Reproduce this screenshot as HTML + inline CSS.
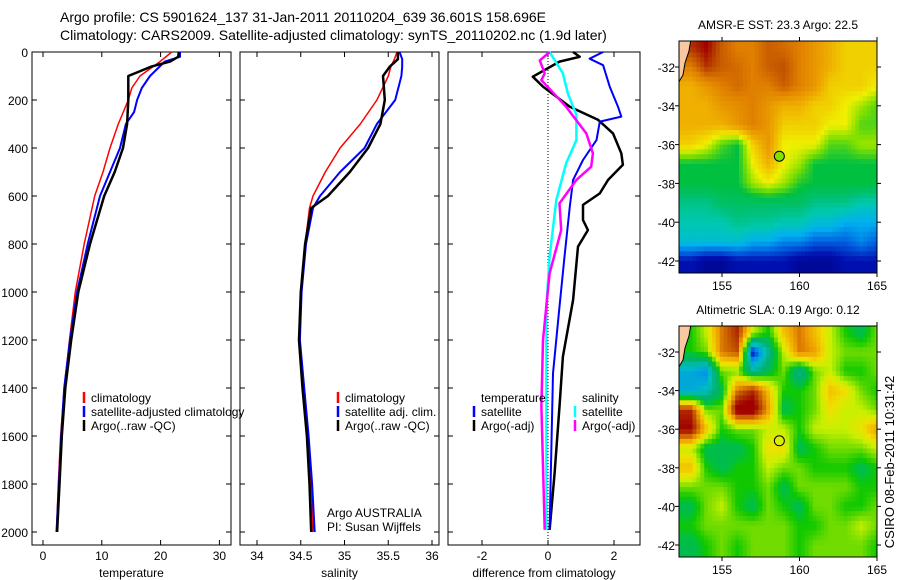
<!DOCTYPE html>
<html><head><meta charset="utf-8">
<style>
body{margin:0;background:#fff;}
svg{display:block;font-family:"Liberation Sans",sans-serif;}
text{fill:#000;}
</style></head>
<body>
<svg id="chart" width="900" height="580" viewBox="0 0 900 580" xmlns="http://www.w3.org/2000/svg">
<text x="60" y="22" font-size="14">Argo profile: CS 5901624_137 31-Jan-2011 20110204_639 36.601S 158.696E</text>
<text x="60" y="40" font-size="14">Climatology: CARS2009. Satellite-adjusted climatology: synTS_20110202.nc (1.9d later)</text>
<g id="p1"></g>
<g id="p2"></g>
<g id="p3"></g>
<g id="m1"></g>
<g id="m2"></g>
<text transform="translate(894,462) rotate(-90)" font-size="13" text-anchor="middle">CSIRO 08-Feb-2011 10:31:42</text>
</svg>
<script>
// ---------- profile data ----------
const tDepthArgo = [0,20,40,60,100,200,300,400,500,600,800,1000,1200,1400,1600,1800,2000];
const tempArgo   = [23.1,23.0,21.6,18.5,14.5,14.5,14.3,13.6,12.2,10.4,8.0,6.0,4.8,3.8,3.2,2.8,2.4];
const tDepthClim = [0,40,100,150,200,300,400,500,600,800,1000,1200,1400,1600,1800,2000];
const tempClim   = [21.9,19.9,16.5,15.1,14.5,12.8,11.4,10.2,8.8,7.0,5.5,4.5,3.6,3.0,2.6,2.3];
const tDepthSat  = [0,20,40,100,150,200,250,300,400,500,600,800,1000,1200,1400,1600,1800,2000];
const tempSat    = [23.3,23.3,20.7,18.2,16.8,16.0,15.5,14.1,13.1,11.4,9.7,7.6,5.8,4.6,3.6,3.1,2.7,2.3];

const sDepth   = [0,30,60,100,200,300,400,500,600,650,800,1000,1200,1400,1600,1800,2000];
const salArgo  = [35.61,35.61,35.52,35.44,35.46,35.41,35.27,35.06,34.81,34.62,34.55,34.50,34.48,34.52,34.57,34.60,34.62];
const salClim  = [35.60,35.57,35.53,35.50,35.37,35.18,34.95,34.78,34.64,34.60,34.55,34.50,34.49,34.54,34.59,34.62,34.64];
const salSat   = [35.63,35.66,35.66,35.65,35.58,35.37,35.23,34.95,34.72,34.64,34.56,34.51,34.49,34.54,34.59,34.63,34.66];

const dDepthTA = [0,20,40,103,144,228,283,339,422,470,533,589,637,700,742,811,1033,1269,1477,1755,1991];
const diffTempArgo = [0.76,0.96,0.35,-0.46,-0.15,0.66,1.52,1.97,2.22,2.27,1.82,1.57,1.06,1.06,1.21,0.91,0.76,0.45,0.35,0.2,0.05];
const dDepthTS = [0,28,55,144,228,269,290,367,450,533,644,853,1061,1339,1991];
const diffTempSat = [1.67,1.26,1.67,1.87,2.12,2.22,1.57,1.47,1.06,0.76,0.66,0.5,0.35,0.15,0.05];
const dDepthSS = [0,89,172,262,367,464,617,853,1061,1991];
const diffSalSat = [0.05,0.45,0.6,0.86,0.86,0.55,0.25,0.05,-0.05,-0.05];
const dDepthSA = [0,35,89,117,228,339,422,478,533,631,742,922,1200,1477,1991];
const diffSalArgo = [0.05,-0.25,-0.1,-0.2,0.55,1.16,1.36,1.31,0.86,0.35,0.4,0.05,-0.15,-0.2,-0.1];

const depthTicks = [0,200,400,600,800,1000,1200,1400,1600,1800,2000];
const tempTicks = [0,10,20,30];
const salTicks = [34,34.5,35,35.5,36];
const diffTicks = [-2,0,2];

// ---------- map data (rows lat -31..-42, cols lon 153..165) ----------
const mapLons = [153,154,155,156,157,158,159,160,161,162,163,164,165];
const mapLats = [-31,-32,-33,-34,-35,-36,-37,-38,-39,-40,-41,-42];
const sstGrid = [
[25.5,26,25,24.5,24.5,25,24.8,24.5,24,23.5,23,23,23],
[24.5,25.5,25,24.8,24.5,25,25.2,24.5,24,23.5,23,23,23],
[23.5,24,24.5,24.8,24.5,24.5,25,24.5,24,23,23,23,22.5],
[23.5,23.5,24,24.2,24.5,24,23.5,23.5,23,23,22.5,22,21.5],
[23.5,23.5,23.5,24,24.5,24,23,23,23,22.5,22.5,21.5,21.5],
[23,22.5,21.5,21,23,24,22.5,22.5,22.5,21.5,21.5,22,22],
[21,21,21,21,22.5,23.5,22.5,22,21,21,21,21,21],
[21,21,21,21,22,22.5,22,21.2,21,21,21,21,21],
[20,20,20.5,20.5,20.5,20.5,20.5,20.5,20,20,20,19.5,19.5],
[19.5,19.5,19.5,20,19.8,19.8,19.5,19.5,19,19,18.5,18.5,18.5],
[19,19,19,19,18.5,18.5,18,18,17.5,17.5,17.5,18,17.5],
[16.5,16,16,16.5,16.5,16.5,16.5,16,16,16,16.5,16.5,16.5]];
const slaGrid = [
[0,0.1,0.3,0.4,0.1,0,0.2,0.3,0.2,0.1,0,-0.05,0.05],
[0,0.05,0.3,0.35,-0.42,-0.15,0.1,0.3,0.25,0.1,0.05,0.05,0.05],
[-0.25,-0.3,0.05,0.05,-0.15,-0.05,0.05,-0.15,0.05,0.1,0,0,0.05],
[-0.25,-0.2,-0.05,0.3,0.4,0.2,0,0,0.05,0.2,0.15,0.05,0],
[0.4,0.05,0.05,0.5,0.5,0.25,-0.05,0,0.05,0.15,0.1,0.1,0.05],
[0.45,0.2,0,0.05,0.05,0.1,0.1,0,0.1,0.1,0.1,0.15,0.25],
[0.1,-0.05,-0.05,-0.05,0,0.15,0.15,-0.05,0,0.05,0.05,0.05,0.1],
[0.2,0,-0.05,0,0,0.1,0.05,0.05,0,0,0,-0.05,0],
[0.05,0.05,0.05,0,0,0.05,-0.05,0.05,0.05,0.05,0.05,0,0],
[-0.05,0.05,0.1,0,-0.05,0.05,0,-0.05,0.05,0.05,0,0,0.05],
[0,0.05,0.05,0.05,0.05,0.05,0.05,0,0,0.05,0.05,0.1,0.05],
[-0.05,0,0.05,0,0.05,0.05,0.05,0,0.05,0.05,0.05,0.05,0]];
const argoLon = 158.7, argoLat = -36.6;
const latTicks = [-32,-34,-36,-38,-40,-42];
const lonTicks = [155,160,165];

const NS = "http://www.w3.org/2000/svg";
function mk(parent, tag, attrs){const e=document.createElementNS(NS,tag);for(const k in attrs)e.setAttribute(k,attrs[k]);parent.appendChild(e);return e;}

// ---------- profile panels ----------
const PT=52, PB=545;
const yD = d => 52 + d*0.24;
function panel(g, L, R, xs, xticks, xlabel, showY){
  const box = mk(g,'rect',{x:L,y:PT,width:R-L,height:PB-PT,fill:'none',stroke:'#000','stroke-width':1});
  
  
  depthTicks.forEach(d=>{
    const y=yD(d);
    mk(g,'line',{x1:L,x2:L+5,y1:y,y2:y,stroke:'#000'});
    mk(g,'line',{x1:R-5,x2:R,y1:y,y2:y,stroke:'#000'});
    if(showY){const t=mk(g,'text',{x:L-4,y:y+5,'font-size':12,'text-anchor':'end'});t.textContent=d;
      
      }
  });
  xticks.forEach(v=>{
    const x=xs(v);
    mk(g,'line',{x1:x,x2:x,y1:PB-5,y2:PB,stroke:'#000'});
    mk(g,'line',{x1:x,x2:x,y1:PT,y2:PT+5,stroke:'#000'});
    const t=mk(g,'text',{x:x,y:PB+15,'font-size':12,'text-anchor':'middle'});t.textContent=v;
    
    
  });
  const xl=mk(g,'text',{x:(L+R)/2,y:577,'font-size':12,'text-anchor':'middle'});xl.textContent=xlabel;
  
  
}
function line(g, depths, vals, xs, color, w, name){
  const pts = vals.map((v,i)=>xs(v).toFixed(1)+','+yD(depths[i]).toFixed(1)).join(' ');
  const p = mk(g,'polyline',{points:pts,fill:'none',stroke:color,'stroke-width':w,'stroke-linejoin':'round'});
  
  
}
function legend(g, x, y, color, label){
  mk(g,'line',{x1:x,x2:x,y1:y-10,y2:y+1,stroke:color,'stroke-width':2.5});
  const t=mk(g,'text',{x:x+7,y:y,'font-size':12});t.textContent=label;
  
  
}
const g1=document.getElementById('p1'), g2=document.getElementById('p2'), g3=document.getElementById('p3');
const xT = v => 43 + v*5.88;
const xS = v => 257 + (v-34)*87.5;
const xDf = v => 548 + v*33;
panel(g1,32,231,xT,tempTicks,'temperature',true);
panel(g2,240,439,xS,salTicks,'salinity',false);
panel(g3,448,640,xDf,diffTicks,'difference from climatology',false);
mk(g3,'line',{x1:xDf(0),x2:xDf(0),y1:PT,y2:PB,stroke:'#000','stroke-dasharray':'1,2'});

line(g1,tDepthClim,tempClim,xT,'#f00',1.5,'temp-climatology-line');
line(g1,tDepthSat,tempSat,xT,'#00f',2,'temp-satellite-line');
line(g1,tDepthArgo,tempArgo,xT,'#000',2.5,'temp-argo-line');
line(g2,sDepth,salClim,xS,'#f00',1.5,'sal-climatology-line');
line(g2,sDepth,salSat,xS,'#00f',2,'sal-satellite-line');
line(g2,sDepth,salArgo,xS,'#000',2.5,'sal-argo-line');
line(g3,dDepthTA,diffTempArgo,xDf,'#000',2.5,'diff-temp-argo-line');
line(g3,dDepthTS,diffTempSat,xDf,'#00f',2,'diff-temp-sat-line');
line(g3,dDepthSS,diffSalSat,xDf,'#0ff',2.5,'diff-sal-sat-line');
line(g3,dDepthSA,diffSalArgo,xDf,'#f0f',2.5,'diff-sal-argo-line');

legend(g1,84,402,'#f00','climatology');
legend(g1,84,416,'#00f','satellite-adjusted climatology');
legend(g1,84,430,'#000','Argo(..raw -QC)');
legend(g2,338,402,'#f00','climatology');
legend(g2,338,416,'#00f','satellite adj. clim.');
legend(g2,338,430,'#000','Argo(..raw -QC)');
const tt=mk(g3,'text',{x:481,y:402,'font-size':12});tt.textContent='temperature';


const ts=mk(g3,'text',{x:582,y:402,'font-size':12});ts.textContent='salinity';


legend(g3,474,416,'#00f','satellite');
legend(g3,474,430,'#000','Argo(-adj)');
legend(g3,575,416,'#0ff','satellite');
legend(g3,575,430,'#f0f','Argo(-adj)');
const a1=mk(g2,'text',{x:327,y:517,'font-size':12});a1.textContent='Argo AUSTRALIA';


const a2=mk(g2,'text',{x:327,y:531,'font-size':12});a2.textContent='PI: Susan Wijffels';



// ---------- maps ----------
function hex(c){return [parseInt(c.slice(1,3),16),parseInt(c.slice(3,5),16),parseInt(c.slice(5,7),16)];}
function cmap(stops, v){
  if(v<=stops[0][0]) return stops[0][1];
  for(let i=1;i<stops.length;i++){
    if(v<=stops[i][0]){const a=stops[i-1],b=stops[i];const t=(v-a[0])/(b[0]-a[0]);
      const A=hex(a[1]),B=hex(b[1]);return 'rgb('+A.map((x,k)=>Math.round(x+(B[k]-x)*t)).join(',')+')';}
  }
  return stops[stops.length-1][1];
}
const sstStops=[[15.5,'#000080'],[16.5,'#0010b0'],[17.5,'#0060e0'],[18.5,'#00b0f0'],[19.5,'#00c8b0'],[20.3,'#00c070'],[21,'#00c040'],[21.8,'#80e000'],[22.5,'#f0f000'],[23.5,'#f0b000'],[24.5,'#e08000'],[25.2,'#c05000'],[26,'#a00000']];
const slaStops=[[-0.45,'#00006f'],[-0.38,'#0020c0'],[-0.3,'#0090f0'],[-0.2,'#00c0c0'],[-0.1,'#00b070'],[-0.03,'#00c040'],[0,'#10c800'],[0.05,'#70dc00'],[0.1,'#c8f000'],[0.15,'#f0e000'],[0.25,'#f0a000'],[0.35,'#c05000'],[0.45,'#a00000']];

function sample(grid, lon, lat){
  let fc=Math.max(0,Math.min(mapLons.length-1,lon-mapLons[0]));
  let fr=Math.max(0,Math.min(mapLats.length-1,mapLats[0]-lat));
  const c0=Math.min(Math.floor(fc),mapLons.length-2), r0=Math.min(Math.floor(fr),mapLats.length-2);
  const tc=fc-c0, tr=fr-r0;
  const a=grid[r0][c0]*(1-tc)+grid[r0][c0+1]*tc;
  const b=grid[r0+1][c0]*(1-tc)+grid[r0+1][c0+1]*tc;
  return a*(1-tr)+b*tr;
}

function drawMap(id, top, bottom, latScale, lat32y, grid, stops, title, markerFill, clipId){
  const g=document.getElementById(id);
  const L=679,R=877;
  const xL = lon => 722 + (lon-155)*15.5;
  const yL = lat => lat32y + (-32-lat)*latScale;
  const defs=mk(g,'defs',{});
  const cp=mk(defs,'clipPath',{id:clipId});
  mk(cp,'rect',{x:L,y:top,width:R-L,height:bottom-top});
  const cells=mk(g,'g',{'clip-path':'url(#'+clipId+')'});
  
  
  const step=0.25;
  for(let lat=-30.5; lat>-42.8; lat-=step){
    for(let lon=152.1; lon<165.2; lon+=step){
      const v=sample(grid, lon+step/2, lat-step/2);
      const x0=xL(lon), y0=yL(lat);
      const cell=mk(cells,'rect',{x:x0.toFixed(1),y:y0.toFixed(1),width:(step*15.5+0.6).toFixed(1),height:(step*latScale+0.6).toFixed(1),fill:cmap(stops,v)});
      
      
    }
  }
  const land=mk(cells,'path',{d:`M${L-2},${top-2} L${L+12},${top-2} L${L+10},${top+10} L${L+6},${top+22} L${L+4},${top+34} L${L-2},${top+44} Z`,fill:'#f8c8a0',stroke:'#000','stroke-width':1});
  
  
  mk(g,'rect',{x:L,y:top,width:R-L,height:bottom-top,fill:'none',stroke:'#000'});
  latTicks.forEach(lat=>{
    const y=yL(lat);
    mk(g,'line',{x1:L-4,x2:L,y1:y,y2:y,stroke:'#000'});
    mk(g,'line',{x1:R,x2:R+4,y1:y,y2:y,stroke:'#000'});
    const t=mk(g,'text',{x:L-4,y:y+5,'font-size':12,'text-anchor':'end'});t.textContent=lat;
    
    
  });
  lonTicks.forEach(lon=>{
    const x=xL(lon);
    mk(g,'line',{x1:x,x2:x,y1:bottom,y2:bottom+4,stroke:'#000'});
    mk(g,'line',{x1:x,x2:x,y1:top-4,y2:top,stroke:'#000'});
    const t=mk(g,'text',{x:x,y:bottom+17,'font-size':12,'text-anchor':'middle'});t.textContent=lon;
    
    
  });
  const ti=mk(g,'text',{x:(L+R)/2,y:top-12,'font-size':12,'text-anchor':'middle'});ti.textContent=title;
  
  
  const m=mk(g,'circle',{cx:xL(argoLon),cy:yL(argoLat),r:5,fill:markerFill,stroke:'#000'});
  
  
}
drawMap('m1',41,273,19.4,67,sstGrid,sstStops,'AMSR-E SST: 23.3 Argo: 22.5','#80e000','clipA');
drawMap('m2',326,557,19.3,352,slaGrid,slaStops,'Altimetric SLA: 0.19 Argo: 0.12','#d8f000','clipB');
</script>
</body></html>
